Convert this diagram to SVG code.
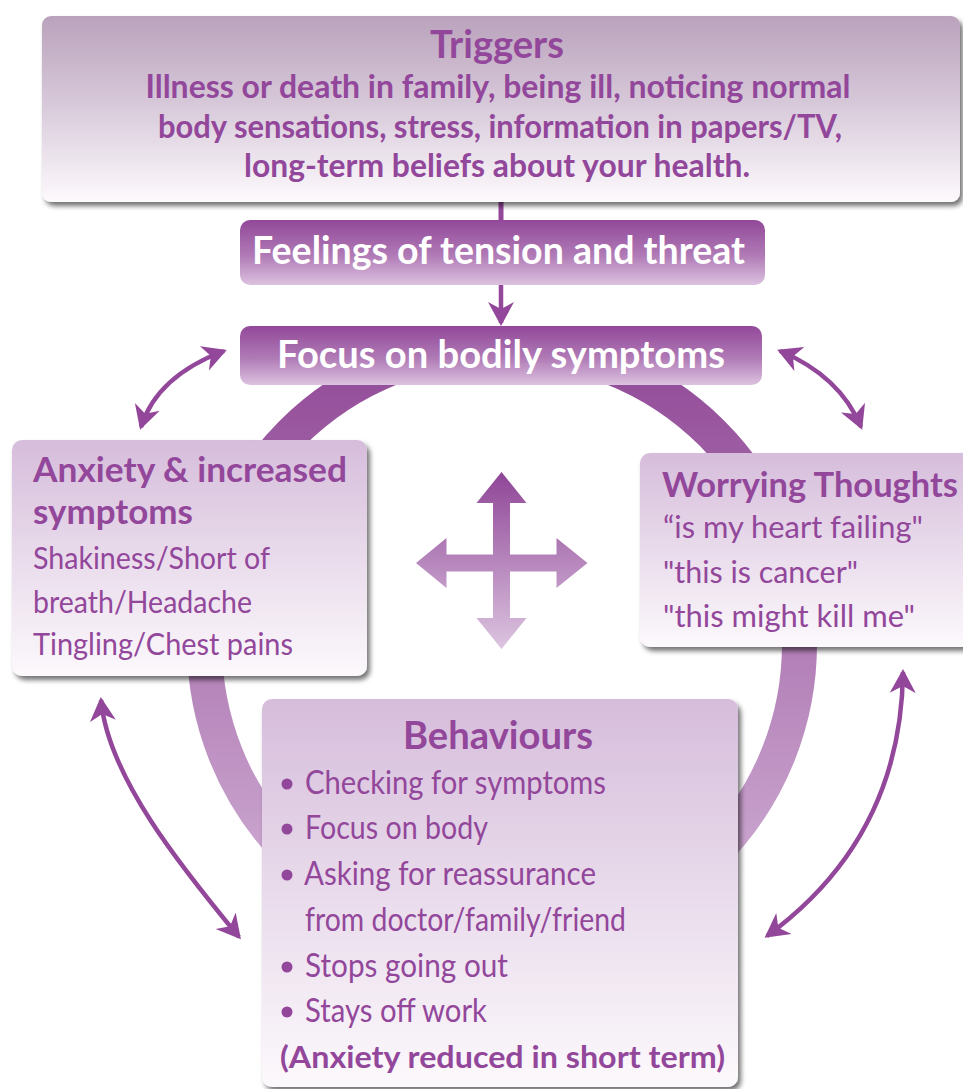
<svg xmlns="http://www.w3.org/2000/svg" width="963" height="1089" viewBox="0 0 963 1089">
<defs>
<style>
.t{font-family:Lato,"Open Sans","Liberation Sans",sans-serif;fill:#92479b}
.b{font-weight:700}
.w{font-family:Lato,"Open Sans","Liberation Sans",sans-serif;font-weight:700;fill:#ffffff}
.arc{fill:none;stroke:#93479a;stroke-width:4.5}
</style>
<linearGradient id="gTrig" x1="0" y1="0" x2="0" y2="1">
<stop offset="0" stop-color="#baa2bc"/>
<stop offset="0.5" stop-color="#d9cbdb"/>
<stop offset="1" stop-color="#fdfafd"/>
</linearGradient>
<linearGradient id="gBox" x1="0" y1="0" x2="0" y2="1">
<stop offset="0" stop-color="#d6bddb"/>
<stop offset="1" stop-color="#fcf9fc"/>
</linearGradient>
<linearGradient id="gDark" x1="0" y1="0" x2="0" y2="1">
<stop offset="0" stop-color="#924899"/>
<stop offset="0.55" stop-color="#b07bb6"/>
<stop offset="1" stop-color="#dcc2e0"/>
</linearGradient>
<linearGradient id="gRing" gradientUnits="userSpaceOnUse" x1="0" y1="385" x2="0" y2="860">
<stop offset="0" stop-color="#95509b"/>
<stop offset="1" stop-color="#caa5ce"/>
</linearGradient>
<linearGradient id="gCross" gradientUnits="userSpaceOnUse" x1="0" y1="472" x2="0" y2="649">
<stop offset="0" stop-color="#8f4597"/>
<stop offset="1" stop-color="#dcc5e0"/>
</linearGradient>
<filter id="sh" x="-5%" y="-5%" width="112%" height="115%">
<feDropShadow dx="3" dy="4" stdDeviation="2.5" flood-color="#000" flood-opacity="0.55"/>
</filter>
<marker id="ah" markerUnits="userSpaceOnUse" markerWidth="28" markerHeight="28" viewBox="0 -14 28 28" refX="21" refY="0" orient="auto-start-reverse">
<path d="M0,-13 L24,0 L0,13 L7,0 Z" fill="#93479a"/>
</marker>
</defs>
<rect width="963" height="1089" fill="#ffffff"/>

<g id="connectors">
<circle cx="502" cy="644" r="297.5" fill="none" stroke="url(#gRing)" stroke-width="35"/>
<line x1="501" y1="200" x2="501" y2="222" stroke="#93479a" stroke-width="5"/>
<line x1="501" y1="284" x2="501" y2="323" stroke="#93479a" stroke-width="4.5" marker-end="url(#ah)"/>
<path class="arc" d="M141,427 Q157,376 224,351" marker-start="url(#ah)" marker-end="url(#ah)"/>
<path class="arc" d="M780,351 Q840,376 861,427" marker-start="url(#ah)" marker-end="url(#ah)"/>
<path class="arc" d="M101,700 C108,777 182,868 239,937" marker-start="url(#ah)" marker-end="url(#ah)"/>
<path class="arc" d="M903,672 Q901,838 767,936" marker-start="url(#ah)" marker-end="url(#ah)"/>
<polygon fill="url(#gCross)" points="501.5,472 526.5,503 510,503 510,554.5 556.5,554.5 556.5,538 587.5,563 556.5,588 556.5,571.5 510,571.5 510,618 526.5,618 501.5,649 476.5,618 493,618 493,571.5 446.5,571.5 446.5,588 416,563 446.5,538 446.5,554.5 493,554.5 493,503 476.5,503"/>
</g>

<g id="triggers">
<rect x="42" y="16" width="918" height="186" rx="9" fill="url(#gTrig)" filter="url(#sh)"/>
<text class="t b" x="497" y="58" font-size="39" text-anchor="middle" textLength="134" lengthAdjust="spacingAndGlyphs">Triggers</text>
<text class="t b" x="498" y="98" font-size="32" text-anchor="middle" textLength="705" lengthAdjust="spacingAndGlyphs">Illness or death in family, being ill, noticing normal</text>
<text class="t b" x="500" y="138" font-size="32" text-anchor="middle" textLength="684" lengthAdjust="spacingAndGlyphs">body sensations, stress, information in papers/TV,</text>
<text class="t b" x="497" y="177" font-size="32" text-anchor="middle" textLength="506" lengthAdjust="spacingAndGlyphs">long-term beliefs about your health.</text>
</g>

<g id="feelings">
<rect x="240" y="220" width="525" height="65" rx="10" fill="url(#gDark)"/>
<text class="w" x="252" y="264" font-size="39" textLength="493" lengthAdjust="spacingAndGlyphs">Feelings of tension and threat</text>
</g>

<g id="focus">
<rect x="240" y="326" width="522" height="59" rx="10" fill="url(#gDark)"/>
<text class="w" x="277" y="368" font-size="39" textLength="448" lengthAdjust="spacingAndGlyphs">Focus on bodily symptoms</text>
</g>

<g id="anxiety">
<rect x="12" y="440" width="355" height="236" rx="10" fill="url(#gBox)" filter="url(#sh)"/>
<text class="t b" x="33" y="482" font-size="34" textLength="314" lengthAdjust="spacingAndGlyphs">Anxiety &amp; increased</text>
<text class="t b" x="33" y="524" font-size="34" textLength="160" lengthAdjust="spacingAndGlyphs">symptoms</text>
<text class="t" x="33" y="569" font-size="31" textLength="237" lengthAdjust="spacingAndGlyphs">Shakiness/Short of</text>
<text class="t" x="33" y="613" font-size="31" textLength="219" lengthAdjust="spacingAndGlyphs">breath/Headache</text>
<text class="t" x="33" y="655" font-size="31" textLength="260" lengthAdjust="spacingAndGlyphs">Tingling/Chest pains</text>
</g>

<g id="worrying">
<rect x="640" y="453" width="345" height="194" rx="10" fill="url(#gBox)" filter="url(#sh)"/>
<text class="t b" x="662" y="497" font-size="34" textLength="296" lengthAdjust="spacingAndGlyphs">Worrying Thoughts</text>
<text class="t" x="663" y="538" font-size="31" textLength="260" lengthAdjust="spacingAndGlyphs">“is my heart failing"</text>
<text class="t" x="663" y="583" font-size="31" textLength="195" lengthAdjust="spacingAndGlyphs">"this is cancer"</text>
<text class="t" x="663" y="627" font-size="31" textLength="252" lengthAdjust="spacingAndGlyphs">"this might kill me"</text>
</g>

<g id="behaviours">
<rect x="262" y="699" width="476" height="388" rx="10" fill="url(#gBox)" filter="url(#sh)"/>
<text class="t b" x="498" y="749" font-size="39" text-anchor="middle" textLength="190" lengthAdjust="spacingAndGlyphs">Behaviours</text>
<g fill="#92479b">
<circle cx="287" cy="784" r="5.5"/>
<circle cx="287" cy="829" r="5.5"/>
<circle cx="287" cy="875" r="5.5"/>
<circle cx="287" cy="967" r="5.5"/>
<circle cx="287" cy="1012" r="5.5"/>
</g>
<text class="t" x="305" y="794" font-size="32" textLength="301" lengthAdjust="spacingAndGlyphs">Checking for symptoms</text>
<text class="t" x="305" y="839" font-size="32" textLength="183" lengthAdjust="spacingAndGlyphs">Focus on body</text>
<text class="t" x="304" y="885" font-size="32" textLength="292" lengthAdjust="spacingAndGlyphs">Asking for reassurance</text>
<text class="t" x="305" y="931" font-size="32" textLength="321" lengthAdjust="spacingAndGlyphs">from doctor/family/friend</text>
<text class="t" x="305" y="977" font-size="32" textLength="203" lengthAdjust="spacingAndGlyphs">Stops going out</text>
<text class="t" x="305" y="1022" font-size="32" textLength="182" lengthAdjust="spacingAndGlyphs">Stays off work</text>
<text class="t b" x="280" y="1068" font-size="31" textLength="445" lengthAdjust="spacingAndGlyphs">(Anxiety reduced in short term)</text>
</g>
</svg>
